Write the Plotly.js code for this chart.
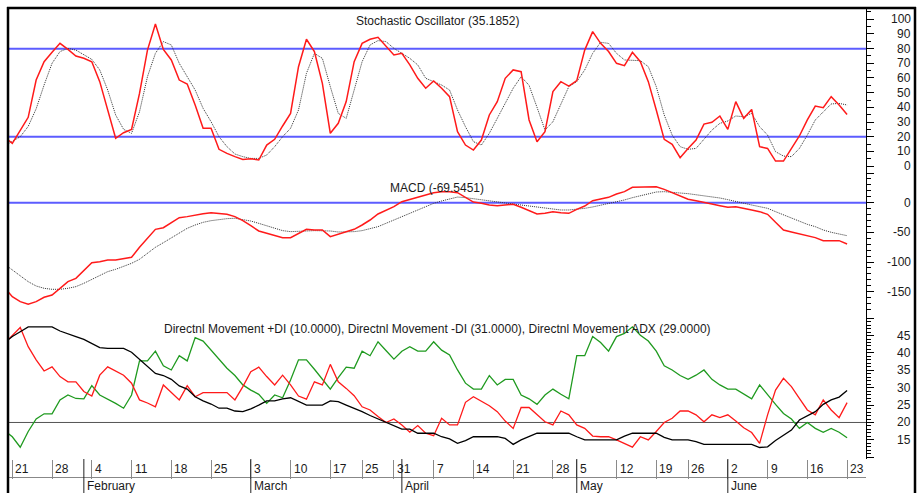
<!DOCTYPE html>
<html>
<head>
<meta charset="utf-8">
<script src="https://cdn.plot.ly/plotly-3.0.1.min.js"></script>
<style>
html,body{margin:0;padding:0;background:#fff;}
#chart{width:923px;height:493px;}
</style>
</head>
<body>
<div id="chart"></div>
<script>
// Trading-day index of the first value (the Friday before the "21" week tick)
const firstDay = -1;

// Stochastic oscillator %K (red) and %D (dotted)
const stochK = [19.8, 15.5, 24.3, 33.2, 58.6, 71.1, 77.5, 83.6, 79.5, 75, 73.4, 71.1, 57.5, 38.2, 18.9, 22.7, 25, 49.5, 79, 96.8, 79.5, 72.3, 58.6, 55.9, 41.6, 25.7, 25.7, 11.4, 8.6, 6.4, 4.5, 5, 4.1, 14.3, 18.2, 27.3, 35.9, 67.7, 86.4, 78, 56.4, 22.3, 29.1, 43.9, 71.1, 83.6, 86.4, 87.7, 81.4, 75.7, 76.8, 68.9, 59.8, 53, 58, 53, 47.3, 23.4,
  14.3, 10.9, 17.7, 34.8, 43.9, 59.8, 65.5, 64.3, 31.4, 16.6, 23.4, 50.7, 57.5, 54.5, 58.2, 79, 91.6, 83.6, 78, 70, 68.4, 77.5, 71.1, 57.5, 38.2, 18.2, 14.8, 5.7, 12, 17.7, 28.6, 29.8, 34.1, 25, 43.9, 32.5, 38.6, 13.2, 12, 3.4, 3.4, 12, 20.5, 31.4, 40.9, 39.8, 47.3, 41.6, 35.19];
const stochD = [13.6, 16.6, 20, 27, 39, 55.2, 70, 78, 80.2, 79, 76.1, 72.7, 65.5, 51.8, 34.8, 25, 22.3, 37, 60.9, 76.8, 84.8, 82.5, 70, 60.9, 51.8, 39.3, 30.2, 20, 13.2, 8.2, 6.4, 5.2, 5.2, 7.5, 13.2, 20, 25.7, 38.2, 63.2, 76.8, 73.4, 54.1, 35.9, 32.5, 51.8, 71.1, 82.5, 85.5, 84.8, 80.2, 76.8, 73.4, 68.9, 59.8, 57.5, 55.2, 51.8, 38.2,
  26.8, 16.6, 14.3, 22.3, 32.5, 42.7, 53, 60.9, 55, 40, 24.5, 30.2, 42.7, 54.1, 57.5, 65.5, 76.8, 84.3, 83.6, 76.8, 72.3, 72.3, 71.8, 67.7, 54.1, 34.8, 21.1, 13.2, 11.4, 12, 18.2, 24.5, 29.1, 30.7, 34.1, 33.6, 35.9, 26.8, 21.1, 9.8, 6.8, 6.4, 12, 21.1, 31.4, 37, 42.3, 42.7, 41.6];

// MACD (red) and signal (dotted)
const macdLine = [-142.6, -158.4, -166.8, -171.3, -166.8, -159.5, -155.6, -144.3, -133.1, -127.5, -113.4, -101.1, -99.4, -96.6, -96.6, -94.9, -92.1, -75.2, -60.1, -44.9, -42.1, -33.7, -25.2, -23.5, -20.7, -18.5, -16.8, -17.9, -19.6, -23.5, -30.3, -38.7, -47.7, -51.6, -55, -58.9, -58.9, -51.6, -44.9, -46, -46, -57.3, -53.3, -49.4, -44.9, -37.6, -29.2, -19.1, -13.4, -6.7, 1.7, 5.7, 9, 12.4, 16.9, 18.6, 18.6, 16.9,
  8.5, 1, -1.1, -3.9, -5, -3.3, -2.8, -7.8, -13.4, -19.1, -17.9, -15.1, -16.8, -17.9, -11.2, -5.6, 3.4, 6.2, 9, 14.7, 18.6, 25.9, 25.9, 27, 27, 22.5, 16.9, 10.2, 5.7, 3.4, 0.1, -2.2, -5, -7.8, -6.7, -10.1, -12.3, -15.1, -19.6, -33.1, -46, -49.4, -52.8, -56.1, -58.9, -64, -64, -64, -69.55];
const macdSignal = [-103.4, -113.4, -123.5, -133.1, -140.4, -144.3, -146, -146, -144.3, -141.5, -135.9, -129.2, -121.9, -116.2, -112.3, -107.8, -102.2, -95.4, -85.3, -75.2, -67.4, -58.9, -50.5, -43.2, -37.6, -33.1, -30.3, -28.1, -26.9, -26.3, -28.1, -30.9, -34.8, -38.7, -43.2, -47.1, -48.8, -48.8, -47.7, -47.1, -47.1, -47.7, -49.4, -49.4, -48.8, -47.1, -44.3, -40.4, -34.8, -29.2, -22.4, -16.8, -11.2, -5.6, -1.1, 2.9, 6.8, 9.5,
  8.5, 6.5, 4.5, 2.5, 0.6, -1.1, -2.2, -3.9, -5.6, -7.2, -8.9, -10.7, -12.3, -12.3, -11.2, -9.5, -7.2, -4.4, -1.1, 0.6, 4.6, 8.5, 11.9, 15.2, 18, 18.6, 18, 16.3, 15.2, 13.5, 11.9, 10.2, 7.9, 5.1, 1.7, -1.1, -3.9, -6.7, -9.5, -15.1, -20.7, -26.3, -32, -36.5, -40.4, -46, -49.9, -52.8, -55.6];

// Directional movement: +DI (green), -DI (red), ADX (black)
const plusDI = [17.7, 15.9, 12.9, 17.4, 21, 22.5, 22.5, 26.5, 27.9, 26.9, 26.8, 30.6, 27.9, 26.8, 25.5, 24.1, 27.9, 37.7, 37.7, 40.5, 36.3, 35.1, 39.2, 37.7, 44.4, 43.4, 40.8, 38, 35.6, 33.5, 30.8, 29.3, 28.1, 25.5, 27.9, 27.1, 32.2, 38, 38, 35.3, 32.4, 29.6, 32.9, 35.9, 35.6, 40.5, 39.2, 43.2, 40.7, 38.2, 40.5, 41.8, 40.5, 40.5, 43.2, 40.8, 39.4, 35.1,
  31.3, 29.6, 29.6, 33.5, 30.8, 32.4, 32.4, 27.9, 26.8, 25.2, 27.9, 29.6, 28.1, 26.8, 39.2, 39.2, 44.7, 43, 40.5, 44.7, 45.6, 47.5, 45.1, 43.4, 40.5, 36.3, 35.1, 33.5, 32.4, 33.6, 35.1, 32.4, 30.8, 29.6, 29.6, 28.1, 26.8, 30.8, 27.9, 25.2, 22.6, 21, 18.3, 20, 18.3, 17.2, 18.3, 17.2, 15.6];
const minusDI = [42.7, 45, 47.3, 41.8, 38, 34.8, 36, 33.2, 31.7, 31.7, 28.9, 27.6, 33.6, 36, 34.9, 33.6, 31.3, 26.5, 25.6, 24.5, 30.8, 28.7, 26.5, 30.6, 27.4, 28.6, 28.6, 28.6, 28.6, 26.5, 30.3, 34.6, 35.9, 33.2, 30.8, 33.6, 30.8, 27.6, 26.7, 31.7, 30.8, 36.7, 31.7, 29.8, 27.7, 24.5, 23.6, 21.7, 20, 21, 19.3, 17.2, 19.1, 16.9, 16.2, 21.2, 19.3, 19.3,
  25.8, 27.4, 26.2, 24.8, 23.1, 20.4, 18.3, 24.3, 24.3, 22.2, 20.2, 19.3, 23.3, 22.2, 19.3, 18.3, 16.1, 15.9, 15.9, 15, 13.9, 12.9, 15.9, 15, 17.4, 20, 21.2, 23.3, 23.3, 22.2, 20.2, 22.2, 21.4, 22.2, 20.4, 18.5, 17.1, 14, 22.2, 29.3, 32.7, 30.3, 26.9, 23.6, 22.2, 26.5, 23.6, 21.4, 25.7];
const adx = [42.9, 44.7, 46.1, 47.5, 47.5, 47.5, 47.5, 46.3, 45.4, 44.7, 43.9, 42.8, 41.5, 41.3, 41.3, 41.3, 40.2, 38.2, 36, 34.1, 33.5, 32.4, 30.5, 29.6, 27.4, 26.2, 25.3, 24.1, 24.1, 23.3, 23.1, 23.9, 25, 26.2, 26.2, 26.8, 27.1, 26, 25, 25, 25, 26.2, 26, 25, 24.1, 23.1, 22, 21, 20.2, 19, 18.1, 18.1, 16.9, 16.9, 16.9, 15.9, 15.3, 14,
  14.8, 15.9, 15.9, 15.9, 15.9, 15.4, 13.7, 15, 15.9, 16.9, 16.9, 16.9, 16.9, 16.9, 15.9, 15, 15, 15, 15, 15, 16.1, 16.9, 16.9, 16.9, 16.9, 15.7, 15, 15, 15, 14.5, 13.7, 13.7, 13.7, 13.7, 13.7, 13.7, 13.7, 12.8, 13, 14.8, 16.4, 17.8, 20.7, 22, 23.1, 25.2, 26.5, 27.3, 29.2];

// Date axis: week ticks (trading-day index) and their labels, month starts
const weekTickIdx = [0, 5, 10, 15, 20, 25, 30, 35, 40, 44, 48, 53, 58, 63, 68, 71, 76, 81, 85, 90, 95, 100, 105];
const weekTickText = ['21', '28', '4', '11', '18', '25', '3', '10', '17', '25', '31', '7', '14', '21', '28', '5', '12', '19', '26', '2', '9', '16', '23'];
const monthIdx = [9, 30, 49, 71, 90];
const monthText = ['February', 'March', 'April', 'May', 'June'];

// Right-hand value labels
const stochLabels = [0, 10, 20, 30, 40, 50, 60, 70, 80, 90, 100];
const macdLabels = [0, -50, -100, -150];
const dmiLabels = [15, 20, 25, 30, 35, 40, 45];

// Reference levels
const stochLevels = [80, 20];
const macdLevels = [0];
const dmiLevels = [20];

const panelTitles = [
  'Stochastic Oscillator (35.1852)',
  'MACD (-69.5451)',
  'Directnl Movement +DI (10.0000), Directnl Movement -DI (31.0000), Directnl Movement ADX (29.0000)'
];

const days = stochK.map((_, k) => firstDay + k);
const FONT = 'Liberation Sans, Arial, Helvetica, sans-serif';
const RED = '#ff1a1a', GREEN = '#1f9a1f', BLUE = '#5c5cff';

function line(y, axis, color, width, dash) {
  return {x: days, y: y, yaxis: axis, type: 'scatter', mode: 'lines',
    line: {color: color, width: width, dash: dash || 'solid'},
    hoverinfo: 'skip', showlegend: false};
}

const traces = [
  line(stochD, 'y', '#333', 1, '1px,1px'),
  line(stochK, 'y', RED, 1.5),
  line(macdSignal, 'y2', '#333', 1, '1px,1px'),
  line(macdLine, 'y2', RED, 1.5),
  line(plusDI, 'y3', GREEN, 1.3),
  line(minusDI, 'y3', RED, 1.3),
  line(adx, 'y3', '#000', 1.3)
];

// Paper helpers (plot area: x 8..866, y 8..459 in a 923x493 page)
const PX0 = 8, PW = 858, PY1 = 459, PH = 451;
const px = v => (v - PX0) / PW;
const py = v => (PY1 - v) / PH;

const shapes = [];
stochLevels.forEach(v => shapes.push({type: 'line', layer: 'below', xref: 'paper', x0: 0, x1: 1, yref: 'y', y0: v, y1: v, line: {color: BLUE, width: 2}}));
macdLevels.forEach(v => shapes.push({type: 'line', layer: 'below', xref: 'paper', x0: 0, x1: 1, yref: 'y2', y0: v, y1: v, line: {color: BLUE, width: 2}}));
dmiLevels.forEach(v => shapes.push({type: 'line', layer: 'below', xref: 'paper', x0: 0, x1: 1, yref: 'y3', y0: v, y1: v, line: {color: '#555', width: 1}}));
// date axis separator
shapes.push({type: 'line', xref: 'paper', x0: 0, x1: 1, yref: 'paper', y0: py(477.5), y1: py(477.5), line: {color: '#888', width: 1}});
monthIdx.forEach(i => shapes.push({type: 'line', xref: 'x', x0: i, x1: i, yref: 'paper', y0: 0, y1: py(500), line: {color: '#222', width: 1}}));
// frame
shapes.push({type: 'line', xref: 'paper', yref: 'paper', x0: px(8), x1: px(8), y0: py(7), y1: py(500), line: {color: '#000', width: 2.5}});
shapes.push({type: 'line', xref: 'paper', yref: 'paper', x0: px(7), x1: px(916), y0: py(8), y1: py(8), line: {color: '#000', width: 2.5}});
shapes.push({type: 'line', xref: 'paper', yref: 'paper', x0: px(915), x1: px(915), y0: py(7), y1: py(500), line: {color: '#000', width: 2.5}});

const ann = [];
const tf = {family: FONT, size: 12, color: '#1a1a1a'};
const titleY = [20.5, 188.3, 329];
panelTitles.forEach((t, k) => ann.push({text: t, xref: 'paper', x: 0.5, xanchor: 'center', yref: 'paper', y: py(titleY[k]), yanchor: 'middle', showarrow: false, font: tf}));
function valueLabels(vals, axis) {
  vals.forEach(v => ann.push({text: String(v), xref: 'paper', x: px(912.5), xanchor: 'right', yref: axis, y: v, yanchor: 'middle', showarrow: false, font: tf}));
}
valueLabels(stochLabels, 'y');
valueLabels(macdLabels, 'y2');
valueLabels(dmiLabels, 'y3');
weekTickIdx.forEach((i, k) => ann.push({text: weekTickText[k], xref: 'x', x: i, xanchor: 'left', xshift: 1, yref: 'paper', y: py(468.5), yanchor: 'middle', showarrow: false, font: tf}));
monthIdx.forEach((i, k) => ann.push({text: monthText[k], xref: 'x', x: i, xanchor: 'left', xshift: 1.5, yref: 'paper', y: py(485.5), yanchor: 'middle', showarrow: false, font: tf}));

function yAxis(domain, range, dtick, minorDtick) {
  return {domain: domain, range: range, side: 'right', anchor: 'x', showgrid: false, zeroline: false,
    showline: true, linecolor: '#000', linewidth: 1, ticks: 'outside', ticklen: 7, tickwidth: 1, tickcolor: '#000',
    tickmode: 'linear', tick0: 0, dtick: dtick, showticklabels: false, fixedrange: true,
    minor: {ticks: 'outside', ticklen: 4, tickwidth: 1, tickcolor: '#000', tickmode: 'linear', tick0: 0, dtick: minorDtick, showgrid: false}};
}

const layout = {
  width: 923, height: 493,
  margin: {l: 8, r: 57, t: 8, b: 34, pad: 0},
  paper_bgcolor: '#fff', plot_bgcolor: 'rgba(0,0,0,0)',
  showlegend: false,
  font: {family: FONT, size: 12, color: '#1a1a1a'},
  xaxis: {range: [-0.541, 107.38], anchor: 'y3', showgrid: false, zeroline: false, showline: false,
    tickmode: 'array', tickvals: weekTickIdx, ticks: 'outside', ticklen: 19, tickwidth: 1, tickcolor: '#8a8a8a',
    showticklabels: false, fixedrange: true},
  yaxis: yAxis([py(170), 1], [-2.7, 107.7], 10, 5),
  yaxis2: yAxis([py(315), py(170)], [-189.3, 55.1], 50, 10),
  yaxis3: yAxis([0, py(315)], [9.5, 50.9], 5, 1),
  shapes: shapes,
  annotations: ann
};

Plotly.newPlot('chart', traces, layout, {staticPlot: true, displayModeBar: false});
</script>
</body>
</html>
